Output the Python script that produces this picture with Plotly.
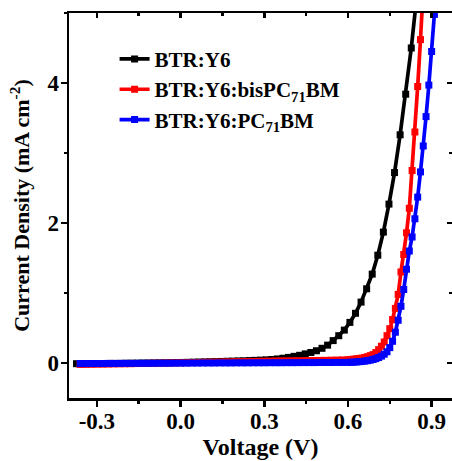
import plotly.graph_objects as go

# ---------------- data ----------------
v_btr = [-0.373, -0.353, -0.333, -0.313, -0.293, -0.273, -0.253, -0.233, -0.213, -0.193,
         -0.173, -0.153, -0.133, -0.113, -0.093, -0.073, -0.053, -0.033, -0.013, 0.007,
         0.027, 0.047, 0.067, 0.087, 0.107, 0.127, 0.147, 0.167, 0.187, 0.207,
         0.227, 0.247, 0.267, 0.287, 0.307, 0.327, 0.347, 0.367, 0.387, 0.407,
         0.427, 0.447, 0.467, 0.487, 0.507, 0.527, 0.547, 0.567, 0.587, 0.607,
         0.627, 0.647, 0.667, 0.687, 0.707, 0.727, 0.747, 0.767, 0.787, 0.807,
         0.827, 0.847]
j_btr = [-0.010, -0.010, -0.010, -0.009, -0.008, -0.008, -0.006, -0.006, -0.005, -0.004,
         -0.003, -0.002, -0.001, 0.000, 0.001, 0.002, 0.003, 0.004, 0.006, 0.008,
         0.010, 0.012, 0.014, 0.016, 0.018, 0.020, 0.022, 0.025, 0.027, 0.030,
         0.032, 0.035, 0.038, 0.041, 0.045, 0.050, 0.058, 0.068, 0.080, 0.095,
         0.110, 0.130, 0.150, 0.175, 0.210, 0.255, 0.320, 0.390, 0.470, 0.580,
         0.710, 0.870, 1.060, 1.270, 1.540, 1.870, 2.270, 2.720, 3.260, 3.840,
         4.500, 5.250]

v_bis = [-0.36, -0.34, -0.32, -0.30, -0.28, -0.26, -0.24, -0.22, -0.20, -0.18,
         -0.16, -0.14, -0.12, -0.10, -0.08, -0.06, -0.04, -0.02, 0.00, 0.02,
         0.04, 0.06, 0.08, 0.10, 0.12, 0.14, 0.16, 0.18, 0.20, 0.22,
         0.24, 0.26, 0.28, 0.30, 0.32, 0.34, 0.36, 0.38, 0.40, 0.42,
         0.44, 0.46, 0.48, 0.50, 0.52, 0.54, 0.56, 0.58, 0.60,
         0.61, 0.62, 0.63, 0.64, 0.65, 0.66, 0.67, 0.68, 0.69, 0.70,
         0.71, 0.72, 0.73, 0.74, 0.75, 0.76, 0.77, 0.78, 0.79, 0.80,
         0.81, 0.82, 0.83, 0.84, 0.85, 0.86, 0.87]
j_bis = [-0.020, -0.019, -0.018, -0.017, -0.016, -0.015, -0.013, -0.012, -0.011, -0.010,
         -0.008, -0.007, -0.006, -0.004, -0.003, -0.002, 0.000, 0.001, 0.003, 0.004,
         0.006, 0.007, 0.009, 0.010, 0.012, 0.013, 0.015, 0.016, 0.018, 0.019,
         0.021, 0.022, 0.024, 0.025, 0.027, 0.028, 0.030, 0.031, 0.032, 0.033,
         0.034, 0.035, 0.036, 0.037, 0.038, 0.040, 0.042, 0.044, 0.047,
         0.050, 0.055, 0.060, 0.065, 0.070, 0.080, 0.090, 0.105, 0.120, 0.150,
         0.190, 0.240, 0.300, 0.390, 0.490, 0.620, 0.780, 0.980, 1.300, 1.550,
         1.860, 2.210, 2.750, 3.300, 3.950, 4.620, 5.350]

v_pc = [-0.36, -0.34, -0.32, -0.30, -0.28, -0.26, -0.24, -0.22, -0.20, -0.18,
        -0.16, -0.14, -0.12, -0.10, -0.08, -0.06, -0.04, -0.02, 0.00, 0.02,
        0.04, 0.06, 0.08, 0.10, 0.12, 0.14, 0.16, 0.18, 0.20, 0.22,
        0.24, 0.26, 0.28, 0.30, 0.32, 0.34, 0.36, 0.38, 0.40, 0.42,
        0.44, 0.46, 0.48, 0.50, 0.52, 0.54, 0.56, 0.58, 0.60,
        0.61, 0.62, 0.63, 0.64, 0.65, 0.66, 0.67, 0.68, 0.69, 0.70,
        0.71, 0.72, 0.73, 0.74, 0.75, 0.76, 0.77, 0.78, 0.79, 0.80,
        0.81, 0.82, 0.83, 0.84, 0.85, 0.86, 0.87, 0.88, 0.89, 0.90,
        0.91, 0.92]
j_pc = [-0.008, -0.008, -0.007, -0.007, -0.007, -0.006, -0.006, -0.006, -0.005, -0.005,
        -0.005, -0.004, -0.004, -0.004, -0.003, -0.003, -0.003, -0.002, -0.002, -0.002,
        -0.001, -0.001, 0.000, 0.000, 0.000, 0.001, 0.001, 0.001, 0.002, 0.002,
        0.002, 0.003, 0.003, 0.003, 0.004, 0.004, 0.004, 0.005, 0.005, 0.005,
        0.006, 0.006, 0.006, 0.007, 0.007, 0.007, 0.008, 0.008, 0.009,
        0.010, 0.012, 0.015, 0.018, 0.022, 0.027, 0.033, 0.040, 0.050, 0.062,
        0.078, 0.098, 0.125, 0.160, 0.220, 0.310, 0.440, 0.610, 0.810, 1.050,
        1.340, 1.600, 1.800, 2.060, 2.370, 2.730, 3.100, 3.520, 3.970, 4.450,
        4.980, 5.500]

names = ["BTR:Y6", "BTR:Y6:bisPC<sub>71</sub>BM", "BTR:Y6:PC<sub>71</sub>BM"]
colors = ["#000000", "#ff0000", "#0000ff"]

x_range = [-0.4, 0.973]
y_range = [-0.5, 5.0]
x_ticks = [-0.3, 0.0, 0.3, 0.6, 0.9]
x_ticklabels = ["-0.3", "0.0", "0.3", "0.6", "0.9"]
y_ticks = [0, 2, 4]
y_ticklabels = ["0", "2", "4"]

FONT = "Liberation Serif, Times New Roman, serif"

fig = go.Figure()
for v, j, n, c in zip([v_btr, v_bis, v_pc], [j_btr, j_bis, j_pc], names, colors):
    fig.add_trace(go.Scatter(
        x=v, y=j, name=n, mode="lines+markers",
        line=dict(color=c, width=3.7),
        marker=dict(symbol="square", size=7, color=c, line=dict(width=0)),
        cliponaxis=True, hoverinfo="skip",
    ))

# empty helper trace so the mirrored top/right axes (frame) are drawn
fig.add_trace(go.Scatter(x=[], y=[], xaxis="x2", yaxis="y2", showlegend=False,
                         hoverinfo="skip", mode="lines"))

axis_common = dict(showline=True, linecolor="black", linewidth=2.5,
                   showgrid=False, zeroline=False,
                   tickcolor="black", tickwidth=2.5)

fig.update_layout(
    width=452, height=461,
    margin=dict(l=69, r=0, t=13, b=63),
    paper_bgcolor="white", plot_bgcolor="white",
    font=dict(family=FONT, size=21, color="black", weight="bold"),
    showlegend=True,
    legend=dict(x=0.119, y=0.933, xanchor="left", yanchor="top",
                bgcolor="rgba(0,0,0,0)", borderwidth=0,
                font=dict(family=FONT, size=21, color="black", weight="bold"),
                tracegroupgap=0),
    xaxis=dict(range=x_range, tickmode="array", tickvals=x_ticks, ticktext=x_ticklabels,
               ticks="outside", ticklen=6,
               minor=dict(ticks="outside", ticklen=3, dtick=0.15, tick0=0,
                          tickcolor="black", tickwidth=2.5),
               title=dict(text="Voltage (V)", font=dict(size=24), standoff=3),
               tickfont=dict(size=23), ticklabelstandoff=-5,
               **axis_common),
    yaxis=dict(range=y_range, tickmode="array", tickvals=y_ticks, ticktext=y_ticklabels,
               ticks="outside", ticklen=6,
               minor=dict(ticks="outside", ticklen=3, dtick=1, tick0=0,
                          tickcolor="black", tickwidth=2.5),
               title=dict(text="Current Density (mA cm<sup>-2</sup>)", font=dict(size=22), standoff=12),
               tickfont=dict(size=23), ticklabelstandoff=-3,
               **axis_common),
    xaxis2=dict(range=x_range, overlaying="x", side="top", anchor="y2",
                tickmode="array", tickvals=x_ticks, showticklabels=False,
                ticks="inside", ticklen=5,
                minor=dict(ticks="inside", ticklen=3, dtick=0.15, tick0=0,
                           tickcolor="black", tickwidth=2.5),
                **axis_common),
    yaxis2=dict(range=y_range, overlaying="y", side="right", anchor="x2",
                tickmode="array", tickvals=y_ticks, showticklabels=False,
                ticks="inside", ticklen=5,
                minor=dict(ticks="inside", ticklen=3, dtick=1, tick0=0,
                           tickcolor="black", tickwidth=2.5),
                **axis_common),
)

fig.write_html("out.html", config={"displayModeBar": False, "staticPlot": True},
               post_script="document.body.style.margin='0';document.body.style.padding='0';document.body.style.overflow='hidden';")
